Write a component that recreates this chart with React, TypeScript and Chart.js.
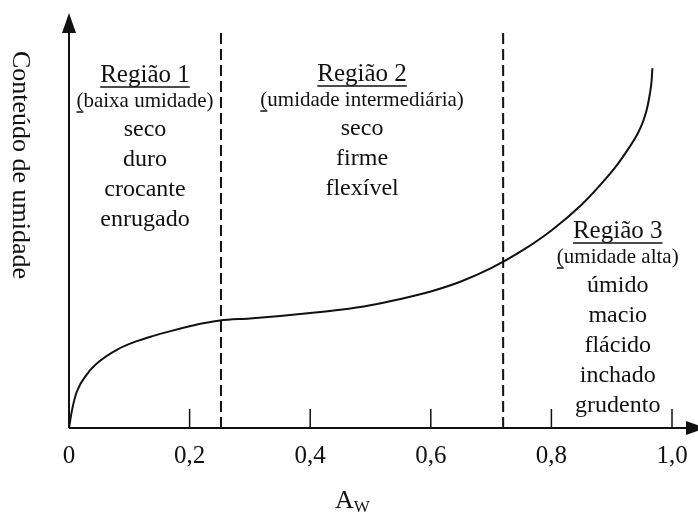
import { useEffect, useRef } from 'react';
import { Chart, registerables } from 'chart.js';

Chart.register(...registerables);

// Sorption isotherm: water activity (Aw) vs. moisture content (arbitrary units)
const awValues = [0, 0.005, 0.013, 0.03, 0.05, 0.08, 0.11, 0.14, 0.17, 0.2, 0.225, 0.25, 0.3, 0.35, 0.4, 0.45, 0.5, 0.55, 0.6, 0.65, 0.7, 0.75, 0.8, 0.85, 0.88, 0.91, 0.93, 0.94, 0.945, 0.95, 0.955, 0.96, 0.963, 0.966, 0.9675];
const moistureValues = [0, 4.3, 8.8, 13.0, 16.0, 18.9, 20.8, 22.2, 23.4, 24.5, 25.3, 25.9, 26.4, 27.0, 27.7, 28.5, 29.6, 31.1, 32.9, 35.3, 38.5, 42.6, 47.6, 53.8, 58.4, 63.6, 67.8, 70.1, 71.5, 73.1, 75.1, 77.9, 80.3, 83.4, 86.7];

// Region boundaries (Aw) and the height of the dashed separators
const regionBounds = [0.252, 0.72];
const boundTop = 96;

// X axis ticks
const xTickValues = [0, 0.2, 0.4, 0.6, 0.8, 1.0];
const xTickLabels = ['0', '0,2', '0,4', '0,6', '0,8', '1,0'];

const yAxisTitle = 'Conteúdo de umidade';
const xAxisTitle = 'A';
const xAxisSub = 'W';

// Region annotations
const regionTitles = ['Região 1', 'Região 2', 'Região 3'];
const regionSubtitles = ['(baixa umidade)', '(umidade intermediária)', '(umidade alta)'];
const regionTraits = [
  ['seco', 'duro', 'crocante', 'enrugado'],
  ['seco', 'firme', 'flexível'],
  ['úmido', 'macio', 'flácido', 'inchado', 'grudento'],
];

const SERIF = '"Liberation Serif", "Times New Roman", serif';
const INK = '#111';

// Where each region's text block sits: centre (Aw) and title baseline (px)
const regionAnchors = [
  { aw: 0.126, top: 82 },
  { aw: 0.486, top: 81 },
  { aw: 0.91, top: 238 },
];

const decorations = {
  id: 'decorations',
  afterDraw(chart: any) {
    const ctx: CanvasRenderingContext2D = chart.ctx;
    const xs = chart.scales.x;
    const ys = chart.scales.y;
    const x0 = xs.getPixelForValue(0);
    const yb = ys.getPixelForValue(0);
    ctx.save();
    ctx.strokeStyle = INK;
    ctx.fillStyle = INK;
    ctx.lineWidth = 2;

    // axes
    ctx.beginPath();
    ctx.moveTo(x0, yb);
    ctx.lineTo(x0, ys.top + 16);
    ctx.moveTo(x0, yb);
    ctx.lineTo(xs.right + 16, yb);
    ctx.stroke();
    // arrow heads
    ctx.beginPath();
    ctx.moveTo(x0, ys.top);
    ctx.lineTo(x0 - 7, ys.top + 20);
    ctx.lineTo(x0 + 7, ys.top + 20);
    ctx.closePath();
    ctx.fill();
    ctx.beginPath();
    ctx.moveTo(xs.right + 34, yb);
    ctx.lineTo(xs.right + 14, yb - 7);
    ctx.lineTo(xs.right + 14, yb + 7);
    ctx.closePath();
    ctx.fill();

    // tick marks and labels
    ctx.lineWidth = 1.5;
    ctx.font = `25px ${SERIF}`;
    ctx.textAlign = 'center';
    ctx.textBaseline = 'alphabetic';
    xTickValues.forEach((v, i) => {
      const px = xs.getPixelForValue(v);
      if (v > 0) {
        ctx.beginPath();
        ctx.moveTo(px, yb);
        ctx.lineTo(px, yb - 19);
        ctx.stroke();
      }
      ctx.fillText(xTickLabels[i], px, yb + 35);
    });

    // x axis title: A with subscript W
    ctx.textAlign = 'left';
    ctx.font = `26px ${SERIF}`;
    const ax = 335;
    ctx.fillText(xAxisTitle, ax, yb + 80);
    const aw = ctx.measureText(xAxisTitle).width;
    ctx.font = `17px ${SERIF}`;
    ctx.fillText(xAxisSub, ax + aw, yb + 84);

    // y axis title, reading downward
    ctx.save();
    ctx.translate(13, 165);
    ctx.rotate(Math.PI / 2);
    ctx.font = `26px ${SERIF}`;
    ctx.textAlign = 'center';
    ctx.fillText(yAxisTitle, 0, 0);
    ctx.restore();

    // region annotations
    ctx.textAlign = 'center';
    regionAnchors.forEach((a, r) => {
      const cx = xs.getPixelForValue(a.aw);
      let y = a.top;
      ctx.font = `25px ${SERIF}`;
      ctx.fillText(regionTitles[r], cx, y);
      const tw = ctx.measureText(regionTitles[r]).width;
      ctx.lineWidth = 1.5;
      ctx.beginPath();
      ctx.moveTo(cx - tw / 2, y + 5);
      ctx.lineTo(cx + tw / 2, y + 5);
      ctx.stroke();

      y += 25;
      ctx.font = `21px ${SERIF}`;
      const sub = regionSubtitles[r];
      ctx.fillText(sub, cx, y);
      const sw = ctx.measureText(sub).width;
      const pw = ctx.measureText('(').width;
      ctx.beginPath();
      ctx.moveTo(cx - sw / 2, y + 5);
      ctx.lineTo(cx - sw / 2 + pw, y + 5);
      ctx.stroke();

      y += 29;
      ctx.font = `24px ${SERIF}`;
      regionTraits[r].forEach((t) => {
        ctx.fillText(t, cx, y);
        y += 30;
      });
    });
    ctx.restore();
  },
};

export default function App() {
  const canvasRef = useRef<HTMLCanvasElement | null>(null);

  useEffect(() => {
    const canvas = canvasRef.current;
    if (!canvas) return;
    const curve = awValues.map((x, i) => ({ x, y: moistureValues[i] }));
    const bounds = regionBounds.map((b) => ({
      data: [{ x: b, y: 0 }, { x: b, y: boundTop }],
      borderColor: INK,
      borderWidth: 2,
      borderDash: [11, 5],
      pointRadius: 0,
      tension: 0,
    }));
    const chart = new Chart(canvas, {
      type: 'line',
      data: {
        datasets: [
          {
            data: curve,
            borderColor: INK,
            borderWidth: 2,
            pointRadius: 0,
            cubicInterpolationMode: 'monotone',
          } as any,
          ...(bounds as any[]),
        ],
      },
      options: {
        responsive: false,
        animation: false,
        layout: { padding: { left: 69, top: 13, right: 26, bottom: 85 } },
        plugins: { legend: { display: false }, tooltip: { enabled: false } },
        scales: {
          x: { type: 'linear', min: 0, max: 1, display: false },
          y: { type: 'linear', min: 0, max: 100, display: false },
        },
      },
      plugins: [decorations],
    });
    return () => chart.destroy();
  }, []);

  return (
    <div style={{ position: 'fixed', left: 0, top: 0, width: 698, height: 513, background: '#fff' }}>
      <canvas ref={canvasRef} width={698} height={513} />
    </div>
  );
}
